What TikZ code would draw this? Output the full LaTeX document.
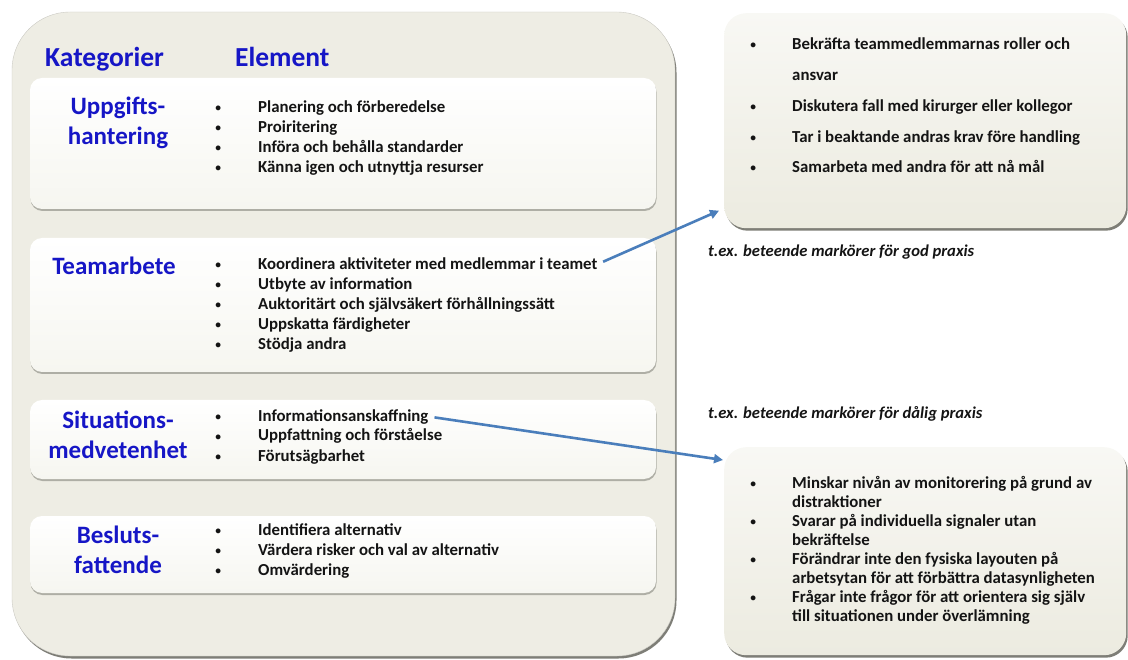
\documentclass[tikz,border=0pt]{standalone}
\usepackage{fontspec}
\setmainfont{Carlito}
\usepackage{xcolor}
\usepackage{tikz}
\usetikzlibrary{arrows.meta,positioning,calc,shadows}
\definecolor{ink}{RGB}{20,20,20}
\definecolor{catblue}{RGB}{22,22,198}
\definecolor{linkblue}{RGB}{74,126,187}
\definecolor{frameback}{RGB}{238,237,228}
\definecolor{cardback}{RGB}{246,246,240}
\definecolor{noteback}{RGB}{236,235,224}
\definecolor{shadegray}{RGB}{112,112,104}
\newcommand{\bul}[1][44pt]{\makebox[#1][l]{\hspace{1pt}\raisebox{1pt}{\scalebox{0.72}{$\bullet$}}}}
\tikzset{
  frame/.style={fill=frameback,draw=frameback!85!black,line width=0.4pt,rounded corners=58pt,
    drop shadow={shadow xshift=1.5pt,shadow yshift=-2.5pt,fill=shadegray,opacity=.9}},
  card/.style={top color=white,bottom color=cardback,rounded corners=12pt,
    drop shadow={shadow xshift=0.5pt,shadow yshift=-2pt,fill=shadegray,opacity=.5}},
  notebox/.style={top color=frameback!40,bottom color=noteback,rounded corners=22pt,
    minimum width=402pt,inner sep=0pt,
    drop shadow={shadow xshift=1.5pt,shadow yshift=-2.5pt,fill=shadegray,opacity=.9}},
  head/.style={font=\fontsize{27.5}{30}\selectfont\bfseries,text=catblue,inner sep=0pt,anchor=base west},
  cat/.style={font=\fontsize{25}{30}\selectfont\bfseries,text=catblue,inner sep=0pt,
    align=center,anchor=base},
  item/.style={font=\fontsize{16.8}{20}\selectfont\bfseries,text=ink,inner sep=0pt,anchor=base west},
  caption/.style={font=\fontsize{16.6}{18}\selectfont\bfseries\itshape,text=ink,inner sep=0pt,anchor=base west},
  link/.style={line width=2.6pt,linkblue,-{Triangle[length=9pt,width=9pt]}}
}

\begin{document}
\begin{tikzpicture}[x=1pt,y=-1pt]
  \useasboundingbox (0,0) rectangle (1128,660);
  % left frame with the four categories
  \path[frame] (12,12) rectangle (675,656);
  \path[card] (30,78) rectangle (656,209);
  \path[card] (30,238) rectangle (656,372);
  \path[card] (30,400) rectangle (656,479);
  \path[card] (30,516) rectangle (656,593);
  \node[head] (kat) at (45,67) {Kategorier};
  \node[head] (elem) at (235,67) {Element};
  \node[cat] (upp) at (118,145) {Uppgifts-\\hantering};
  \node[cat] (team) at (114,275) {Teamarbete};
  \node[cat] (sit) at (118,458) {Situations-\\medvetenhet};
  \node[cat] (bes) at (118,573) {Besluts-\\fattende};
  \foreach \txt [count=\i] in {Planering och förberedelse,Proiritering,
      Införa och behålla standarder,Känna igen och utnyttja resurser}
    \node[item] (u\i) at (214,{113+20*(\i-1)}) {\bul\txt};
  \foreach \txt [count=\i] in {Koordinera aktiviteter med medlemmar i teamet,
      Utbyte av information,Auktoritärt och självsäkert förhållningssätt,
      Uppskatta färdigheter,Stödja andra}
    \node[item] (t\i) at (214,{270+20*(\i-1)}) {\bul\txt};
  \foreach \txt [count=\i] in {Informationsanskaffning,Uppfattning och förståelse,
      Förutsägbarhet}
    \node[item] (s\i) at (214,{421+20*(\i-1)}) {\bul\txt};
  \foreach \txt [count=\i] in {Identifiera alternativ,
      Värdera risker och val av alternativ,Omvärdering}
    \node[item] (b\i) at (214,{535+20*(\i-1)}) {\bul\txt};
  % behaviour markers
  \node[notebox,minimum height=215pt,anchor=north west] (good) at (724,13) {};
  \node[notebox,minimum height=208pt,anchor=north west] (bad) at (724,447) {};
  \foreach \y/\txt [count=\i] in {50/{Bekräfta teammedlemmarnas roller och\\ansvar},
      112/{Diskutera fall med kirurger eller kollegor},
      143/{Tar i beaktande andras krav före handling},
      173/{Samarbeta med andra för att nå mål}}
    \node[item] (g\i) at (749,\y)
      {\bul[43pt]\parbox[t]{330pt}{\baselineskip=31pt\txt}};
  \foreach \txt [count=\i] in {{Minskar nivån av monitorering på grund av\\distraktioner},
      {Svarar på individuella signaler utan\\bekräftelse},
      {Förändrar inte den fysiska layouten på\\arbetsytan för att förbättra datasynligheten},
      {Frågar inte frågor för att orientera sig själv\\till situationen under överlämning}}
    \node[item] (d\i) at (749,{488+38*(\i-1)})
      {\bul[43pt]\parbox[t]{330pt}{\baselineskip=19pt\txt}};
  \node[caption] (godcap) at (708,257) {t.ex. beteende markörer för god praxis};
  \node[caption] (badcap) at (708,418) {t.ex. beteende markörer för dålig praxis};
  \draw[link,shorten <=6pt] (t1.east) -- ([xshift=-5pt,yshift=-90pt]good.west);
  \draw[link,shorten <=6pt] (s1.east) -- ([xshift=-1pt,yshift=-13pt]bad.north west);
\end{tikzpicture}
\end{document}
